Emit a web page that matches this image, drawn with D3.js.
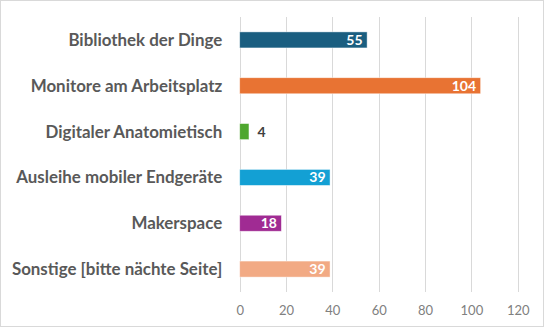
<!DOCTYPE html>
<html>
<head>
<meta charset="utf-8">
<script src="https://cdn.jsdelivr.net/npm/d3@7"></script>
<style>
  html, body { margin: 0; padding: 0; background: #fff; }
  svg { display: block; }
</style>
</head>
<body>
<svg id="chart" width="545" height="328"></svg>
<script>
// Survey results: interest in library services
const categories = [
  "Bibliothek der Dinge",
  "Monitore am Arbeitsplatz",
  "Digitaler Anatomietisch",
  "Ausleihe mobiler Endgeräte",
  "Makerspace",
  "Sonstige [bitte nächte Seite]"
];
const values = [55, 104, 4, 39, 18, 39];
const colors = ["#1a5e80", "#e87333", "#4ea72e", "#13a0d4", "#a02b93", "#f2aa84"];
const ticks = [0, 20, 40, 60, 80, 100, 120];

const svg = d3.select("#chart");
const W = 545, H = 328;
const font = "Lato, 'Open Sans', sans-serif";

// outer frame
svg.append("rect")
  .attr("x", 0.5).attr("y", 0.5)
  .attr("width", W - 2).attr("height", H - 2)
  .attr("fill", "#fff").attr("stroke", "#d9d9d9").attr("stroke-width", 1);

const plot = { left: 239.7, right: 517.7, top: 17, bottom: 292 };

const x = d3.scaleLinear().domain([0, 120]).range([plot.left, plot.right]);
const y = d3.scaleBand().domain(categories).range([plot.top, plot.bottom]).paddingInner(0.65).paddingOuter(0.325);

// vertical gridlines
svg.append("g")
  .selectAll("line")
  .data(ticks)
  .join("line")
  .attr("x1", d => Math.round(x(d)) + 0.5)
  .attr("x2", d => Math.round(x(d)) + 0.5)
  .attr("y1", plot.top)
  .attr("y2", plot.bottom)
  .attr("stroke", "#d9d9d9")
  .attr("stroke-width", 1);

// x axis labels
const xAxis = d3.axisBottom(x).tickValues(ticks).tickSize(0).tickPadding(0);
const gx = svg.append("g")
  .attr("transform", `translate(0, ${plot.bottom})`)
  .call(xAxis);
gx.select(".domain").remove();
gx.selectAll("text")
  .attr("y", 22.5)
  .attr("dy", 0)
  .attr("fill", "#808080")
  .style("font-family", font)
  .style("font-size", "13px");

// category labels
const yAxis = d3.axisLeft(y).tickSize(0).tickPadding(0);
const gy = svg.append("g")
  .attr("transform", `translate(${plot.left - 17.5}, 0)`)
  .call(yAxis);
gy.select(".domain").remove();
gy.selectAll("text")
  .attr("fill", "#595959")
  .attr("dy", "0.35em")
  .style("font-family", font)
  .style("font-weight", "bold")
  .style("font-size", "16.9px");

// bars
const data = categories.map((c, i) => ({ c, v: values[i], color: colors[i] }));
svg.append("g")
  .selectAll("rect")
  .data(data)
  .join("rect")
  .attr("x", x(0))
  .attr("y", d => y(d.c))
  .attr("width", d => x(d.v) - x(0))
  .attr("height", y.bandwidth())
  .attr("fill", d => d.color)
  .attr("stroke", "#ffffff")
  .attr("stroke-opacity", 0.6)
  .attr("stroke-width", 0.75);

// value labels
svg.append("g")
  .selectAll("text")
  .data(data)
  .join("text")
  .attr("x", d => d.v < 10 ? x(d.v) + 8.5 : x(d.v) - 4.5)
  .attr("y", d => y(d.c) + y.bandwidth() / 2)
  .attr("dy", "0.36em")
  .attr("text-anchor", d => d.v < 10 ? "start" : "end")
  .attr("fill", d => d.v < 10 ? "#404040" : "#ffffff")
  .style("font-family", font)
  .style("font-weight", "bold")
  .style("font-size", "14px")
  .text(d => d.v);
</script>
</body>
</html>
